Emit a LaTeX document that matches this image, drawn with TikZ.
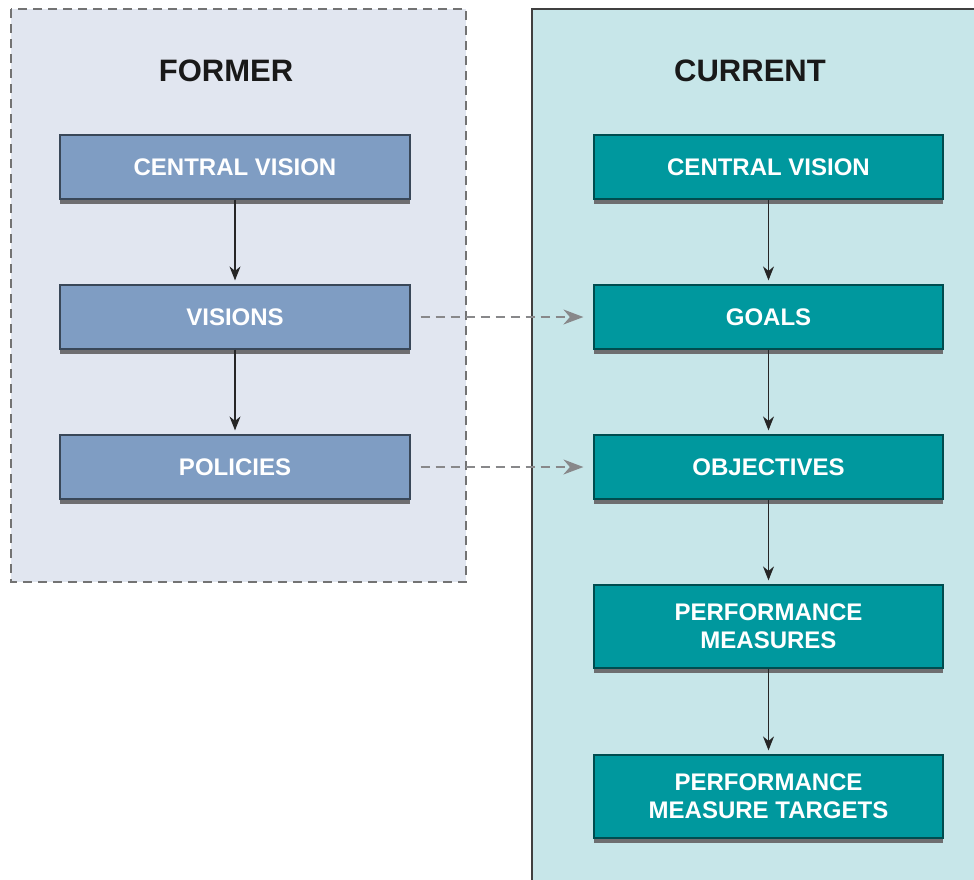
\documentclass[tikz,border=0pt]{standalone}
\usepackage{fontspec}
\setmainfont{Liberation Sans}
\usepackage{tikz}
\usetikzlibrary{positioning}
\usetikzlibrary{shapes,shadows,arrows.meta}
\definecolor{formerbg}{RGB}{225,230,240}
\definecolor{currentbg}{RGB}{199,230,233}
\definecolor{formerbox}{RGB}{127,157,195}
\definecolor{currentbox}{RGB}{0,152,158}
\definecolor{boxshade}{RGB}{110,110,112}
\definecolor{linkgray}{RGB}{136,136,138}
\tikzstyle{title} = [draw=none, fill=none, text centered, font=\fontsize{31}{34}\selectfont\bfseries, text=black!90]
\tikzstyle{oldnode} = [rectangle, draw=formerbox!45!black, line width=1.2pt, fill=formerbox, text=white, text centered, align=center, minimum width=350pt, minimum height=64pt, font=\fontsize{24}{28}\selectfont\bfseries, drop shadow={shadow xshift=0pt, shadow yshift=-5pt, fill=boxshade, opacity=1}]
\tikzstyle{newnode} = [oldnode, draw=currentbox!50!black, fill=currentbox, minimum width=349pt]
\tikzstyle{flow} = [draw, line width=1.1pt, black!85, -{Stealth[length=14pt, width=11pt]}, shorten >=4pt]
\tikzstyle{mapsto} = [draw, line width=1.6pt, linkgray, dash pattern=on 9pt off 6pt, -{Stealth[length=20pt, width=15pt]}, shorten <=10pt, shorten >=10pt]

\begin{document}
\begin{tikzpicture}[x=1pt, y=-1pt]
	\useasboundingbox (0,0) rectangle (974,879);

	% panels
	\draw [fill=formerbg, draw=black!55, line width=1.5pt, dash pattern=on 9pt off 6pt] (11,9) rectangle (466,582);
	\draw [fill=currentbg, draw=black!75, line width=1.5pt] (532,9) rectangle (990,895);

	% title nodes
	\node [title] (T0) at (226,71) {FORMER};
	\node [title] (T1) at (750,71) {CURRENT};

	% former nodes
	\node [oldnode] (O1) at (235,167) {CENTRAL VISION};
	\node [oldnode, below of=O1, node distance=150pt] (O2) {VISIONS};
	\node [oldnode, below of=O2, node distance=150pt] (O3) {POLICIES};

	% current nodes
	\node [newnode] (C1) at (768.5,167) {CENTRAL VISION};
	\node [newnode, below of=C1, node distance=150pt] (C2) {GOALS};
	\node [newnode, below of=C2, node distance=150pt] (C3) {OBJECTIVES};
	\node [newnode, below of=C3, node distance=159.5pt, minimum height=83pt] (C4) {PERFORMANCE\\MEASURES};
	\node [newnode, below of=C4, node distance=170pt, minimum height=83pt] (C5) {PERFORMANCE\\MEASURE TARGETS};

	% draw edges
	\path [flow] (O1) -- (O2);
	\path [flow] (O2) -- (O3);
	\path [flow] (C1) -- (C2);
	\path [flow] (C2) -- (C3);
	\path [flow] (C3) -- (C4);
	\path [flow] (C4) -- (C5);
	\path [mapsto] (O2) -- (C2);
	\path [mapsto] (O3) -- (C3);
\end{tikzpicture}
\end{document}
